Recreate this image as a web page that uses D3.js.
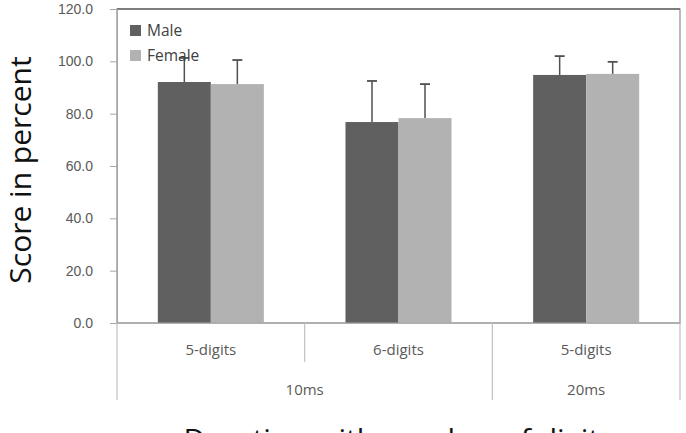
<!DOCTYPE html>
<html>
<head>
<meta charset="utf-8">
<script src="https://cdn.jsdelivr.net/npm/d3@7"></script>
<style>
  html, body { margin: 0; padding: 0; background: #fff; }
  svg { display: block; font-family: "Open Sans", "Noto Sans", sans-serif; }
</style>
</head>
<body>
<svg id="chart" width="686" height="433"></svg>
<script>
// ---- data ----
const digitLabels = ["5-digits", "6-digits", "5-digits"];
const durationLabels = ["10ms", "20ms"];
const durationSpans = [[0, 1], [2, 2]];   // category index range covered by each duration
const seriesNames = ["Male", "Female"];
const maleValues = [92.1, 76.8, 94.8];
const maleErrors = [9.2, 15.7, 7.2];
const femaleValues = [91.3, 78.3, 95.2];
const femaleErrors = [9.2, 13.0, 4.6];
const yTicks = [0, 20, 40, 60, 80, 100, 120];

// ---- layout ----
const svg = d3.select("#chart");
const L = 117, R = 680, T = 9, B = 323;
const colors = { Male: "#606060", Female: "#b2b2b2" };
const series = [
  { name: "Male", values: maleValues, errors: maleErrors },
  { name: "Female", values: femaleValues, errors: femaleErrors }
];

const x0 = d3.scaleBand().domain(d3.range(digitLabels.length)).range([L, R]).padding(0);
const x1 = d3.scaleBand().domain(seriesNames).range([0, x0.bandwidth()]).paddingInner(0).paddingOuter(0.77);
const y = d3.scaleLinear().domain([0, 120]).range([B, T]);

// plot frame
svg.append("rect").attr("x", L).attr("y", T).attr("width", R - L).attr("height", B - T)
  .attr("fill", "none").attr("stroke", "#8c8c8c").attr("stroke-width", 1.2);
svg.append("line").attr("x1", L).attr("x2", R).attr("y1", T).attr("y2", T)
  .attr("stroke", "#6a6a6a").attr("stroke-width", 1.5);

// y axis
const yAxis = d3.axisLeft(y).tickValues(yTicks).tickFormat(d3.format(".1f")).tickSize(7).tickPadding(17);
const ya = svg.append("g").attr("transform", `translate(${L},0)`).call(yAxis);
ya.select(".domain").attr("stroke", "#a6a6a6");
ya.selectAll(".tick line").attr("stroke", "#a6a6a6");
ya.selectAll(".tick text").attr("fill", "#595959").style("font-size", "14px");

// bars
const groups = svg.append("g").selectAll("g").data(series).join("g");
groups.selectAll("rect").data(s => s.values.map((v, i) => ({ s: s.name, v, e: s.errors[i], i })))
  .join("rect")
  .attr("x", d => x0(d.i) + x1(d.s))
  .attr("y", d => y(d.v))
  .attr("width", x1.bandwidth())
  .attr("height", d => y(0) - y(d.v))
  .attr("fill", d => colors[d.s]);

// error bars (upper only)
const errs = svg.append("g").selectAll("g")
  .data(series.flatMap(s => s.values.map((v, i) => ({ s: s.name, v, e: s.errors[i], i }))))
  .join("g");
errs.append("line")
  .attr("x1", d => x0(d.i) + x1(d.s) + x1.bandwidth() / 2)
  .attr("x2", d => x0(d.i) + x1(d.s) + x1.bandwidth() / 2)
  .attr("y1", d => y(d.v)).attr("y2", d => y(d.v + d.e))
  .attr("stroke", "#505050").attr("stroke-width", 1.5);
errs.append("line")
  .attr("x1", d => x0(d.i) + x1(d.s) + x1.bandwidth() / 2 - 5)
  .attr("x2", d => x0(d.i) + x1(d.s) + x1.bandwidth() / 2 + 5)
  .attr("y1", d => y(d.v + d.e)).attr("y2", d => y(d.v + d.e))
  .attr("stroke", "#505050").attr("stroke-width", 1.8);

// x axis: two-level category table
const axisColor = "#c0c0c0";
svg.append("line").attr("x1", L).attr("x2", R).attr("y1", B).attr("y2", B)
  .attr("stroke", "#a6a6a6").attr("stroke-width", 1.2);
// inner separators (digits level)
durationSpans.forEach(([a, b]) => {
  for (let i = a + 1; i <= b; i++) {
    svg.append("line").attr("x1", x0(i)).attr("x2", x0(i)).attr("y1", B).attr("y2", 362)
      .attr("stroke", axisColor).attr("stroke-width", 1.2);
  }
});
// outer separators (duration level)
const outerEdges = [x0(0)].concat(durationSpans.map(([a, b]) => x0(b) + x0.bandwidth()));
outerEdges.forEach(xv => {
  svg.append("line").attr("x1", xv).attr("x2", xv).attr("y1", B).attr("y2", 400)
    .attr("stroke", axisColor).attr("stroke-width", 1.2);
});
svg.append("g").selectAll("text").data(digitLabels).join("text")
  .attr("x", (d, i) => x0(i) + x0.bandwidth() / 2)
  .attr("y", 355)
  .attr("text-anchor", "middle")
  .attr("fill", "#595959").style("font-size", "15px")
  .text(d => d);
svg.append("g").selectAll("text").data(durationLabels).join("text")
  .attr("x", (d, k) => (x0(durationSpans[k][0]) + x0(durationSpans[k][1]) + x0.bandwidth()) / 2)
  .attr("y", 395)
  .attr("text-anchor", "middle")
  .attr("fill", "#595959").style("font-size", "15px")
  .text(d => d);

// legend
const leg = svg.append("g").selectAll("g").data(seriesNames).join("g")
  .attr("transform", (d, i) => `translate(130,${25 + i * 25})`);
leg.append("rect").attr("width", 11).attr("height", 11).attr("fill", d => colors[d]);
leg.append("text").attr("x", 17).attr("y", 11).attr("fill", "#404040")
  .style("font-size", "15.5px").text(d => d);

// axis titles
svg.append("text")
  .attr("transform", `translate(31,${(T + B) / 2 + 4}) rotate(-90)`)
  .attr("text-anchor", "middle")
  .attr("fill", "#111").style("font-size", "30px")
  .text("Score in percent");
svg.append("text")
  .attr("x", (L + R) / 2).attr("y", 450)
  .attr("text-anchor", "middle")
  .attr("fill", "#111").style("font-size", "30px")
  .text("Duration with number of digits");
</script>
</body>
</html>
